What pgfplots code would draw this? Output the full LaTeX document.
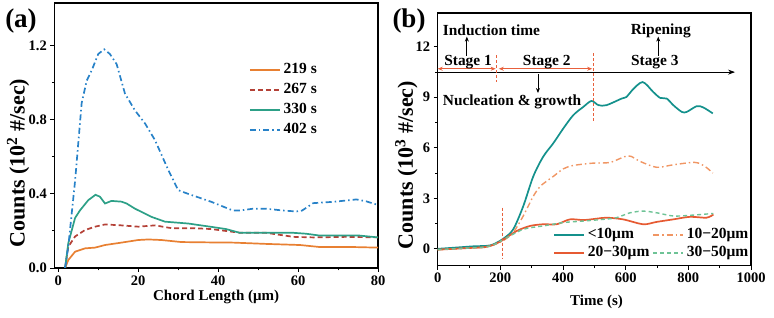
\documentclass[border=0pt]{standalone}
\usepackage{pgfplots}
\pgfplotsset{compat=1.18}
\usepackage{fontspec}
\setmainfont{Liberation Serif}
\usetikzlibrary{arrows.meta}
\definecolor{aor}{RGB}{232,128,50}
\definecolor{ard}{RGB}{180,65,55}
\definecolor{atl}{RGB}{45,160,135}
\definecolor{abl}{RGB}{40,130,200}
\definecolor{btl}{RGB}{20,145,140}
\definecolor{bor}{RGB}{240,150,100}
\definecolor{brd}{RGB}{230,90,50}
\definecolor{bgr}{RGB}{110,195,150}
\definecolor{ann}{RGB}{232,96,60}
\pgfplotsset{
  common/.style={
    scale only axis,
    tick align=outside, tick pos=left,
    minor tick num=1,
    major tick length=4pt, minor tick length=2.5pt,
    axis line style={line width=1.1pt},
    every tick/.style={black, line width=0.9pt},
    ticklabel style={font=\fontsize{14.5}{14.5}\selectfont\bfseries},
    /pgf/number format/assume math mode=true,
    /pgf/number format/1000 sep={},
    label style={font=\bfseries},
    legend image code/.code={\draw[##1] (0pt,0pt) -- (30pt,0pt);},
  },
}
\begin{document}
\begin{tikzpicture}
\path[use as bounding box] (0,0) rectangle (774pt,318pt);
% ---------- (a)
\begin{axis}[common,
  at={(54.3pt,50pt)}, anchor=south west,
  width=323.7pt, height=265pt,
  xmin=-1, xmax=80, ymin=0, ymax=1.43,
  xtick={0,20,40,60,80}, ytick={0,0.4,0.8,1.2},
  yticklabel style={/pgf/number format/.cd, fixed, fixed zerofill, precision=1},
  xlabel={Chord Length (μm)},
  ylabel={Counts (10\textsuperscript{2} \#/sec)},
  xlabel style={at={(axis description cs:0.5,-0.108)}, anchor=center, font=\fontsize{15}{15}\selectfont\bfseries},
  ylabel style={at={(axis description cs:-0.112,0.396)}, anchor=center, font=\fontsize{22}{22}\selectfont\bfseries},
  legend style={draw=none, fill=none, inner sep=0pt, at={(axis description cs:0.601,0.775)}, anchor=north west,
    font=\fontsize{15.5}{15.5}\selectfont\bfseries, row sep=5pt, column sep=3pt,
    nodes={inner sep=0pt, text height=11pt, text depth=4pt}},
  legend cell align=left,
]
\addplot[aor, line width=1.7pt] coordinates {
(1.7,0) (2.5,0.043) (4.2,0.088) (6.7,0.106) (9.2,0.11) (11.7,0.124) (15.8,0.137) (20,0.151) (22.5,0.154) (25.8,0.151) (30.8,0.14) (38.3,0.138) (43.8,0.137) (52,0.13) (60.5,0.124) (65.5,0.113) (74,0.113) (80,0.11)};
\addlegendentry{219 s}
\addplot[ard, line width=1.7pt, dash pattern=on 5pt off 3pt] coordinates {
(1.7,0) (2.5,0.115) (4.2,0.17) (6.7,0.205) (9.2,0.223) (11.7,0.235) (15.8,0.23) (20,0.223) (24.2,0.23) (28.3,0.215) (33.8,0.215) (38.3,0.21) (45.5,0.19) (52,0.19) (58.8,0.168) (63.8,0.165) (72,0.168) (80,0.165)};
\addlegendentry{267 s}
\addplot[atl, line width=1.7pt] coordinates {
(1.7,0) (2.5,0.134) (4.2,0.27) (5.4,0.31) (7.5,0.366) (9.3,0.395) (10.4,0.385) (11.7,0.348) (13.3,0.362) (15.8,0.358) (17.1,0.348) (19.2,0.32) (23.3,0.276) (26.7,0.25) (32.5,0.24) (38.3,0.222) (42,0.21) (45.4,0.19) (52,0.19) (58.7,0.19) (62,0.185) (65.4,0.175) (75.4,0.175) (80,0.165)};
\addlegendentry{330 s}
\addplot[abl, line width=1.7pt, dash pattern=on 6pt off 3pt on 1.5pt off 3pt] coordinates {
(1.7,0) (2.5,0.115) (4.2,0.47) (5.85,0.89) (7.1,1.01) (8.35,1.066) (10,1.155) (11.5,1.18) (12.9,1.155) (14.6,1.10) (16.7,0.94) (19.2,0.85) (21.7,0.78) (24.2,0.69) (27.5,0.53) (30,0.42) (32.5,0.40) (38.3,0.357) (43.7,0.31) (45.5,0.31) (48.7,0.32) (52,0.32) (56.3,0.31) (59.6,0.305) (61,0.31) (63.8,0.35) (68.8,0.357) (74.6,0.37) (77,0.36) (80,0.34)};
\addlegendentry{402 s}
\end{axis}
\node[font=\fontsize{27}{27}\selectfont\bfseries] at (21pt,297pt) {(a)};
% ---------- (b)
\begin{axis}[common,
  at={(437.7pt,52.3pt)}, anchor=south west,
  width=313.3pt, height=252.7pt,
  xmin=0, xmax=1000, ymin=-1, ymax=14,
  xtick={0,200,400,600,800,1000}, ytick={0,3,6,9,12},
  xlabel={Time (s)},
  ylabel={Counts (10\textsuperscript{3} \#/sec)},
  xlabel style={at={(axis description cs:0.507,-0.145)}, anchor=center, font=\fontsize{15}{15}\selectfont\bfseries},
  ylabel style={at={(axis description cs:-0.1,0.398)}, anchor=center, font=\fontsize{22}{22}\selectfont\bfseries},
  legend columns=2,
  legend style={draw=none, fill=none, inner sep=0pt, at={(axis description cs:0.368,0.152)}, anchor=north west,
    font=\fontsize{15.5}{15.5}\selectfont\bfseries, row sep=3pt, column sep=3pt,
    nodes={inner sep=0pt, text height=11pt, text depth=4pt}},
  legend cell align=left,
]
\addplot[btl, line width=1.7pt, smooth] coordinates {
(0,0) (61,0.08) (114,0.15) (157,0.18) (178,0.27) (210,0.61) (241,1.16) (273,2.53) (305,4.3) (337,5.48) (369,6.27) (401,7.15) (433,7.94) (465,8.43) (491,8.78) (513,8.53) (539,8.53) (587,8.92) (603,9.02) (620,9.4) (654,9.9) (688,9.31) (710,8.96) (731,8.92) (752,8.53) (779,8.13) (795,8.13) (827,8.47) (848,8.39) (878,8.04)};
\addlegendentry{<10μm}
\addplot[bor, line width=1.4pt, smooth, dash pattern=on 6pt off 3pt on 1.5pt off 3pt] coordinates {
(0,-0.05) (50,0) (100,0.05) (150,0.1) (180,0.25) (210,0.5) (241,0.97) (273,1.95) (305,3.12) (327,3.7) (350,4.05) (369,4.3) (401,4.75) (433,4.95) (497,5.09) (550,5.13) (608,5.52) (646,5.19) (699,4.84) (752,4.99) (821,5.13) (853,4.89) (878,4.5)};
\addlegendentry{10−20μm}
\addplot[brd, line width=1.7pt, smooth] coordinates {
(0,-0.05) (50,0) (100,0.05) (150,0.1) (180,0.25) (210,0.55) (252,1.06) (295,1.36) (337,1.46) (380,1.46) (422,1.75) (465,1.71) (507,1.79) (539,1.85) (592,1.75) (656,1.46) (699,1.6) (752,1.75) (805,1.9) (858,1.85) (880,2.04)};
\addlegendentry{20−30μm}
\addplot[bgr, line width=1.4pt, smooth, dash pattern=on 4pt off 3pt] coordinates {
(0,-0.05) (50,0) (100,0.05) (150,0.1) (180,0.25) (210,0.55) (273,1.16) (337,1.36) (401,1.56) (465,1.65) (528,1.75) (571,1.85) (614,2.14) (656,2.24) (699,2.14) (752,1.95) (805,1.99) (880,2.1)};
\addlegendentry{30−50μm}
% annotations
\draw[-{Stealth[length=7pt,width=5pt]}, line width=0.9pt] (axis cs:0,10.49) -- (axis cs:949,10.49);
\draw[{Stealth[length=5pt,width=4pt]}-{Stealth[length=5pt,width=4pt]}, ann, line width=0.9pt] (axis cs:0,10.69) -- (axis cs:185,10.69);
\draw[{Stealth[length=5pt,width=4pt]}-{Stealth[length=5pt,width=4pt]}, ann, line width=0.9pt] (axis cs:195,10.69) -- (axis cs:493,10.69);
\draw[ann, line width=0.9pt, dash pattern=on 3pt off 2pt] (axis cs:189,11.5) -- (axis cs:189,9.9);
\draw[ann, line width=0.9pt, dash pattern=on 3pt off 2pt] (axis cs:496,11.6) -- (axis cs:496,7.5);
\draw[ann, line width=0.9pt, dash pattern=on 3pt off 2pt] (axis cs:208,2.45) -- (axis cs:208,-0.6);
\draw[-{Stealth[length=5pt,width=4pt]}, line width=0.8pt] (axis cs:93,11.45) -- (axis cs:93,12.6);
\draw[-{Stealth[length=5pt,width=4pt]}, line width=0.8pt] (axis cs:704,11.45) -- (axis cs:704,12.6);
\draw[-{Stealth[length=5pt,width=4pt]}, line width=0.8pt] (axis cs:320,10.35) -- (axis cs:320,9.25);
\node[font=\fontsize{15.4}{15.4}\selectfont\bfseries, anchor=west, inner sep=0pt] at (axis cs:16,12.95) {Induction time};
\node[font=\fontsize{15.4}{15.4}\selectfont\bfseries, inner sep=0pt] at (axis cs:712,12.95) {Ripening};
\node[font=\fontsize{15.4}{15.4}\selectfont\bfseries, inner sep=0pt] at (axis cs:97,11.1) {Stage 1};
\node[font=\fontsize{15.4}{15.4}\selectfont\bfseries, inner sep=0pt] at (axis cs:348,11.1) {Stage 2};
\node[font=\fontsize{15.4}{15.4}\selectfont\bfseries, inner sep=0pt] at (axis cs:693,11.1) {Stage 3};
\node[font=\fontsize{15.4}{15.4}\selectfont\bfseries, anchor=west, inner sep=0pt] at (axis cs:16,8.75) {Nucleation \& growth};
\end{axis}
\node[font=\fontsize{27}{27}\selectfont\bfseries] at (409pt,297pt) {(b)};
\end{tikzpicture}
\end{document}
